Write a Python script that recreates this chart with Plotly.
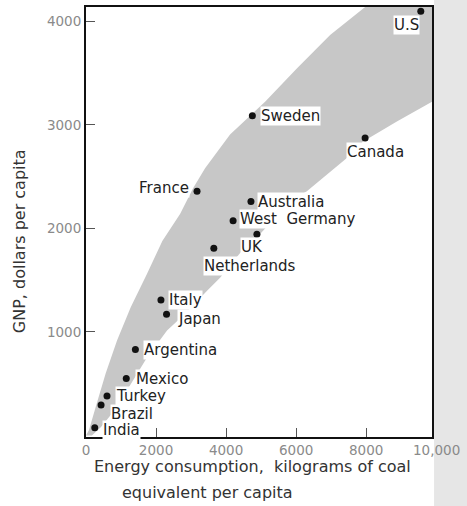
import plotly.graph_objects as go

# ---- data ----
countries = ["U.S", "Sweden", "Canada", "France", "Australia", "West  Germany", "UK",
             "Netherlands", "Italy", "Japan", "Argentina", "Mexico", "Turkey", "Brazil", "India"]
energy = [9560, 4750, 7970, 3170, 4710, 4200, 4880, 3650, 2140, 2300, 1410, 1150, 600, 430, 250]
gnp = [4100, 3090, 2875, 2360, 2260, 2075, 1945, 1810, 1310, 1170, 830, 550, 380, 295, 75]

# shaded band: upper-left boundary (going up) and lower-right boundary (going down)
band_upper_x = [0, 86, 277, 563, 886, 1277, 1743, 2180, 2686, 3057, 3400, 4114, 5114, 6020, 6971, 7971, 9880]
band_upper_y = [0, 52, 276, 600, 918, 1238, 1562, 1879, 2139, 2389, 2581, 2908, 3225, 3546, 3870, 4140, 4140]
band_lower_x = [9880, 8877, 7914, 7449, 6771, 6306, 5829, 4971, 4400, 3829, 3457, 2829, 2314, 1743, 1171, 886, 429, 170, 0]
band_lower_y = [3225, 3033, 2841, 2680, 2485, 2360, 2264, 1946, 1764, 1523, 1398, 1177, 1014, 754, 437, 273, 81, 0, 0]

x_range = [0, 9880]
y_range = [-15, 4140]
x_tickvals = [0, 2000, 4000, 6000, 8000]
x_ticktext = ["0", "2000", "4000", "6000", "8000"]
x_last_tick = 10000
x_last_label = "10,000"
y_tickvals = [1000, 2000, 3000, 4000]

# label offsets (pixels) and anchors
label_anchor = ["center", "left", "center", "right", "left", "left", "center",
                "left", "left", "left", "left", "left", "left", "left", "left"]
label_dx = [-14, 8, 10, -7, 6, 6, -5, -11, 7, 10, 8, 9, 8, 9, 7]
label_dy = [-14, 0, -14, 3, 0, 2, -13, -18, 0, -5, 0, 0, 0, -9, -2]

FONT = "DejaVu Sans"
TICKFONT = dict(family=FONT, size=13.5, color="#8a8a8a")
TITLEFONT = dict(family=FONT, size=16, color="#333333")

fig = go.Figure()

fig.add_trace(go.Scatter(
    x=band_upper_x + band_lower_x,
    y=band_upper_y + band_lower_y,
    mode="lines", fill="toself", fillcolor="#c7c7c7",
    line=dict(width=0), hoverinfo="skip", showlegend=False,
))

fig.add_trace(go.Scatter(
    x=energy, y=gnp, mode="markers",
    marker=dict(color="#111111", size=7),
    showlegend=False,
))

annotations = []
for name, xv, yv, anc, dx, dy in zip(countries, energy, gnp, label_anchor, label_dx, label_dy):
    annotations.append(dict(
        x=xv, y=yv, xref="x", yref="y", text=name, showarrow=False,
        xanchor=anc, yanchor="middle", xshift=dx, yshift=dy,
        font=dict(family=FONT, size=15, color="#222222"),
        bgcolor="white", borderpad=0,
    ))

# last x tick label lies just past the plot's right border
annotations.append(dict(
    x=(x_last_tick - x_range[0]) / (x_range[1] - x_range[0]), y=-0.03,
    xref="paper", yref="paper", text=x_last_label,
    showarrow=False, xanchor="center", yanchor="middle", font=TICKFONT,
))
annotations.append(dict(
    x=0.48, y=-0.068, xref="paper", yref="paper",
    text="Energy consumption,  kilograms of coal", showarrow=False,
    xanchor="center", yanchor="middle", font=TITLEFONT,
))
annotations.append(dict(
    x=0.35, y=-0.128, xref="paper", yref="paper",
    text="equivalent per capita", showarrow=False,
    xanchor="center", yanchor="middle", font=TITLEFONT,
))
annotations.append(dict(
    x=-0.19, y=0.456, xref="paper", yref="paper",
    text="GNP, dollars per capita", showarrow=False, textangle=-90,
    xanchor="center", yanchor="middle", font=TITLEFONT,
))

fig.update_layout(
    width=467, height=506,
    margin=dict(l=86, r=35, t=5, b=69),
    paper_bgcolor="white", plot_bgcolor="white",
    annotations=annotations,
    shapes=[dict(type="rect", xref="paper", yref="paper",
                 x0=1.006, x1=1.2, y0=-0.2, y1=1.05,
                 fillcolor="#e6e6e6", line=dict(width=0), layer="below")],
    xaxis=dict(range=x_range, tickvals=x_tickvals, ticktext=x_ticktext,
               showgrid=False, zeroline=False, showline=True, linecolor="#111111",
               linewidth=2, mirror=True, ticks="inside", ticklen=9, tickcolor="#555555",
               tickfont=TICKFONT),
    yaxis=dict(range=y_range, tickvals=y_tickvals,
               showgrid=False, zeroline=False, showline=True, linecolor="#111111",
               linewidth=2, mirror=True, ticks="inside", ticklen=9, tickcolor="#555555",
               tickfont=TICKFONT),
)

fig.write_html("out.html", config={"displayModeBar": False},
               post_script="document.body.style.margin='0';")
